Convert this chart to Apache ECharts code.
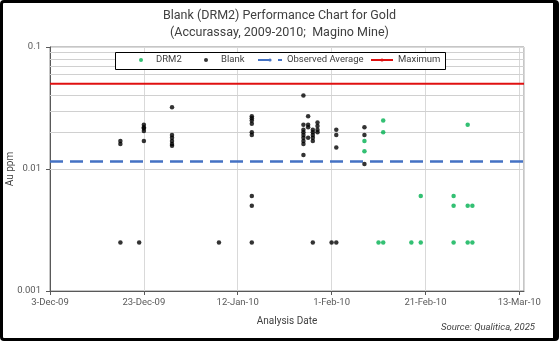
<!DOCTYPE html>
<html><head><meta charset="utf-8">
<script src="https://cdn.jsdelivr.net/npm/echarts@6/dist/echarts.min.js"></script>
<style>
html,body{margin:0;padding:0;background:#fff}
#wrap{position:relative;width:559px;height:341px}
#c{width:559px;height:341px}
#f{position:absolute;left:0;top:0;width:559px;height:341px;box-sizing:border-box;border-style:solid;border-color:#000;border-width:3px 6px 3px 3px;border-radius:4px;pointer-events:none}
</style>
</head><body>
<div id="wrap"><div id="c"></div><div id="f"></div></div>
<script>
// ---- data ----
var baseDate = '2009-12-03';
var xTickLabels = ['3-Dec-09','23-Dec-09','12-Jan-10','1-Feb-10','21-Feb-10','13-Mar-10'];
var yTickLabels = ['0.001','0.01','0.1'];
var minorGridValues = [0.002,0.003,0.004,0.005,0.006,0.007,0.008,0.009,0.02,0.03,0.04,0.05,0.06,0.07,0.08,0.09];
var observedAverage = 0.0115;
var maximumValue = 0.05;

var blankPoints = [
  ['2009-12-18',0.017],['2009-12-18',0.016],['2009-12-18',0.0025],
  ['2009-12-22',0.0025],
  ['2009-12-23',0.023],['2009-12-23',0.022],['2009-12-23',0.0215],['2009-12-23',0.0205],['2009-12-23',0.017],
  ['2009-12-29',0.032],['2009-12-29',0.019],['2009-12-29',0.018],['2009-12-29',0.017],['2009-12-29',0.016],['2009-12-29',0.0155],
  ['2010-01-08',0.0025],
  ['2010-01-15',0.027],['2010-01-15',0.026],['2010-01-15',0.025],['2010-01-15',0.0235],['2010-01-15',0.020],['2010-01-15',0.019],['2010-01-15',0.006],['2010-01-15',0.005],['2010-01-15',0.0025],
  ['2010-01-26',0.040],['2010-01-26',0.023],['2010-01-26',0.021],['2010-01-26',0.020],['2010-01-26',0.019],['2010-01-26',0.018],['2010-01-26',0.017],['2010-01-26',0.016],['2010-01-26',0.013],
  ['2010-01-27',0.027],['2010-01-27',0.023],['2010-01-27',0.022],['2010-01-27',0.018],
  ['2010-01-28',0.021],['2010-01-28',0.020],['2010-01-28',0.019],['2010-01-28',0.018],['2010-01-28',0.017],['2010-01-28',0.0025],
  ['2010-01-29',0.024],['2010-01-29',0.0225],['2010-01-29',0.021],['2010-01-29',0.020],
  ['2010-02-01',0.0025],
  ['2010-02-02',0.021],['2010-02-02',0.019],['2010-02-02',0.015],['2010-02-02',0.0025],
  ['2010-02-08',0.022],['2010-02-08',0.019],['2010-02-08',0.011]
];
var drm2Points = [
  ['2010-02-08',0.017],['2010-02-08',0.014],
  ['2010-02-11',0.0025],
  ['2010-02-12',0.025],['2010-02-12',0.020],['2010-02-12',0.0025],
  ['2010-02-18',0.0025],
  ['2010-02-20',0.006],['2010-02-20',0.0025],
  ['2010-02-27',0.006],['2010-02-27',0.005],['2010-02-27',0.0025],
  ['2010-03-02',0.023],['2010-03-02',0.005],['2010-03-02',0.0025],
  ['2010-03-03',0.005],['2010-03-03',0.0025]
];
var xMaxDays = 101;

// ---- helpers ----
function dayOf(s){ var p=s.split('-'); var b=baseDate.split('-');
  return (Date.UTC(+p[0],+p[1]-1,+p[2]) - Date.UTC(+b[0],+b[1]-1,+b[2]))/864e5; }
function toXY(arr){ return arr.map(function(d){ return [dayOf(d[0]), d[1]]; }); }

var FONT = 'Roboto';
function oneLegend(name, left, w, icon, textPadLeft){
  var item = {name:name}; if (icon) item.icon = icon;
  return {left:left, top:55, padding:0, itemWidth:w, itemHeight:4, itemGap:0, z:10,
    selectedMode:false,
    textStyle:{fontFamily:FONT, fontSize:9.5, color:'#404040', padding:[0,0,0,textPadLeft||0]},
    data:[item]};
}
var chart = echarts.init(document.getElementById('c'), null, {renderer:'canvas'});
chart.setOption({
  animation:false,
  textStyle:{fontFamily:FONT},
  grid:{left:50, top:47, right:35, bottom:50, containLabel:false, outerBoundsMode:'none',
    show:true, borderColor:'#8c8c8c', borderWidth:1, backgroundColor:'transparent'},
  graphic:[
    {type:'text', x:279.5, y:16, style:{text:'Blank (DRM2) Performance Chart for Gold', fontFamily:FONT, fontSize:12.5, fill:'#404040', align:'center', verticalAlign:'middle'}},
    {type:'text', x:279.5, y:33, style:{text:'(Accurassay, 2009-2010;  Magino Mine)', fontFamily:FONT, fontSize:12.5, fill:'#404040', align:'center', verticalAlign:'middle'}},
    {type:'text', x:535, y:328, style:{text:'Source: Qualitica, 2025', fontFamily:FONT, fontSize:9.5, fontStyle:'italic', fill:'#404040', align:'right', verticalAlign:'middle'}},
    {type:'rect', z:8, shape:{x:115.5, y:52.5, width:330, height:17}, style:{fill:'#fff', stroke:'#000', lineWidth:1}}
  ],
  legend:[
    oneLegend('DRM2', 139, 4, 'circle', 8),
    oneLegend('Blank', 204, 4, 'circle', 8),
    oneLegend('Observed Average', 257, 24, null, 0),
    oneLegend('Maximum', 370, 22, null, 0)
  ],
  xAxis:{
    type:'value', min:0, max:xMaxDays, interval:20,
    name:'Analysis Date', nameLocation:'middle', nameGap:25,
    nameTextStyle:{fontFamily:FONT, fontSize:10, color:'#404040'},
    axisLine:{show:true, lineStyle:{color:'#595959', width:1}},
    axisTick:{show:true, length:4, lineStyle:{color:'#595959'}},
    axisLabel:{fontFamily:FONT, fontSize:9.5, color:'#595959', margin:7, showMaxLabel:false,
      formatter:function(v){ var i=Math.round(v/20); return (Math.abs(v-i*20)<0.01 && xTickLabels[i]) ? xTickLabels[i] : ''; }},
    splitLine:{show:true, lineStyle:{color:'#d9d9d9', width:1}}
  },
  yAxis:{
    type:'log', logBase:10, min:0.001, max:0.1,
    name:'Au ppm', nameLocation:'middle', nameGap:35, nameRotate:90, nameMoveOverlap:false,
    nameTextStyle:{fontFamily:FONT, fontSize:10, color:'#404040'},
    axisLine:{show:true, lineStyle:{color:'#595959', width:1}},
    axisTick:{show:true, length:4, lineStyle:{color:'#595959'}},
    axisLabel:{fontFamily:FONT, fontSize:9.5, color:'#595959', margin:9,
      formatter:function(v){ var i=Math.round(Math.log10(v))+3; return yTickLabels[i]||''; }},
    splitLine:{show:true, lineStyle:{color:'#d9d9d9', width:1}}
  },
  series:[
    {name:'grid', type:'line', data:[], silent:true, z:1,
      markLine:{silent:true, symbol:'none', label:{show:false}, animation:false, z:1,
        lineStyle:{color:'#d0d0d0', width:1, type:'solid'},
        data:minorGridValues.map(function(v){return {yAxis:v};})}},
    {name:'Observed Average', type:'line', symbol:'none', z:3,
      data:[[0,observedAverage],[xMaxDays,observedAverage]],
      lineStyle:{color:'#4472c4', width:2.5, type:[13,7]}, itemStyle:{color:'#4472c4'}},
    {name:'Maximum', type:'line', symbol:'none', z:3,
      data:[[0,maximumValue],[xMaxDays,maximumValue]],
      lineStyle:{color:'#e01010', width:2}, itemStyle:{color:'#e01010'}},
    {name:'DRM2', type:'scatter', symbol:'circle', symbolSize:4.5, z:4,
      data:toXY(drm2Points), itemStyle:{color:'#00b050'}},
    {name:'Blank', type:'scatter', symbol:'circle', symbolSize:4.5, z:4,
      data:toXY(blankPoints), itemStyle:{color:'#000000'}}
  ]
});
</script>
</body></html>
